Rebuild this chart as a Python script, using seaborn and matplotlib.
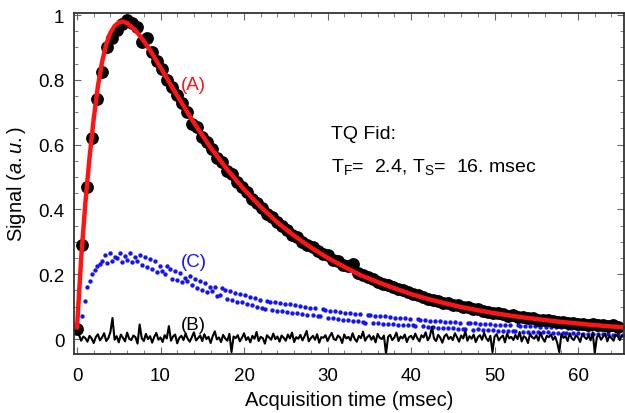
import numpy as np
import seaborn as sns
import matplotlib.pyplot as plt
from matplotlib.ticker import MultipleLocator

# TQ FID signal (A): measured points, one every 0.6 msec
dt_a = 0.6
signal_a = [0.030, 0.290, 0.470, 0.620, 0.740, 0.825, 0.900, 0.930, 0.955, 0.972,
            0.985, 0.975, 0.962, 0.918, 0.930, 0.885, 0.858, 0.832, 0.800, 0.778,
            0.752, 0.728, 0.700, 0.665, 0.655, 0.625, 0.608, 0.588, 0.560, 0.545,
            0.520, 0.508, 0.485, 0.470, 0.455, 0.432, 0.420, 0.405, 0.385, 0.378,
            0.362, 0.348, 0.338, 0.322, 0.314, 0.300, 0.290, 0.283, 0.272, 0.262,
            0.258, 0.243, 0.240, 0.228, 0.225, 0.232, 0.205, 0.198, 0.192, 0.186,
            0.176, 0.171, 0.168, 0.160, 0.154, 0.150, 0.146, 0.138, 0.136, 0.130,
            0.124, 0.122, 0.118, 0.112, 0.110, 0.106, 0.104, 0.098, 0.098, 0.092,
            0.092, 0.088, 0.084, 0.082, 0.080, 0.078, 0.072, 0.074, 0.068, 0.068,
            0.064, 0.066, 0.060, 0.058, 0.058, 0.056, 0.052, 0.054, 0.050, 0.050,
            0.046, 0.048, 0.044, 0.046, 0.042, 0.044, 0.040, 0.042, 0.038]

# Fitted curve (T_F = 2.4, T_S = 16 msec)
fit_t = [0, 0.5, 1, 1.5, 2, 2.5, 3, 3.5, 4, 4.5, 5, 5.5, 6, 7, 8, 9, 10, 12, 14, 16,
         18, 20, 22, 24, 26, 28, 30, 32, 34, 36, 38, 40, 42, 44, 46, 48, 50, 52, 54,
         56, 58, 60, 62, 64, 65.5]
fit_a = [0.035, 0.25, 0.42, 0.56, 0.68, 0.78, 0.855, 0.91, 0.945, 0.966, 0.977, 0.98,
         0.975, 0.953, 0.92, 0.881, 0.838, 0.751, 0.668, 0.591, 0.523, 0.462, 0.408,
         0.36, 0.319, 0.283, 0.251, 0.223, 0.197, 0.176, 0.157, 0.139, 0.124, 0.111,
         0.099, 0.089, 0.080, 0.072, 0.065, 0.059, 0.053, 0.048, 0.043, 0.039, 0.036]

# Signal (C), in units of 0.001, one point every 0.3 msec starting at 0.3
t0_c = 0.3
dt_c = 0.3
signal_c_milli = [30, 70, 118, 160, 178, 200, 212, 226, 232, 242,
                  258, 236, 265, 240, 254, 249, 266, 238, 257, 244,
                  266, 237, 253, 240, 259, 228, 252, 222, 246, 216,
                  240, 208, 226, 210, 201, 225, 216, 186, 210, 181,
                  203, 175, 190, 178, 194, 166, 186, 158, 180, 152,
                  174, 146, 160, 148, 162, 134, 135, 157, 152, 124,
                  147, 121, 143, 116, 139, 113, 136, 108, 130, 105,
                  127, 100, 122, 97, 92, 118, 116, 90, 113, 88,
                  112, 86, 108, 85, 107, 81, 104, 80, 102, 77,
                  100, 75, 96, 74, 95, 70, 71, 92, 91, 66,
                  88, 64, 86, 63, 84, 60, 82, 59, 80, 57,
                  77, 55, 76, 53, 51, 74, 73, 50, 72, 51,
                  70, 48, 70, 47, 67, 47, 66, 44, 66, 45,
                  64, 42, 62, 42, 40, 62, 59, 40, 59, 37,
                  57, 36, 57, 35, 55, 34, 54, 33, 53, 34,
                  52, 32, 51, 31, 30, 50, 50, 29, 49, 30,
                  48, 28, 47, 27, 46, 27, 45, 26, 44, 26,
                  44, 25, 43, 24, 24, 42, 41, 23, 40, 23,
                  40, 22, 39, 22, 38, 21, 37, 21, 37, 20,
                  37, 20, 36, 19, 18, 35, 35, 18, 34, 18,
                  34, 17, 33, 17, 33, 16, 32, 16, 32, 15,
                  31, 15, 31, 14, 30, 14, 30, 14]

# Signal (B), in units of 0.001, one point every 0.25 msec
dt_b = 0.25
signal_b_milli = [30, 12, -5, 8, 3, -8, 10, 2, -12, 6, 15, -4, 5, 18, -6, 3, 22, 65, -2, 9,
                  -10, 14, 4, -7, 20, 1, -3, 11, 6, -14, 45, 3, -6, 16, 0, 9, -11, 7, 19, -2,
                  5, -9, 12, 2, 40, -5, 8, 14, -13, 4, 10, -3, 17, 1, -8, 6, 21, -4, 3, 11,
                  -6, 15, 0, 7, -12, 9, 24, -1, 5, -9, 13, 2, -5, 16, -40, 8, 3, 12, -7, 4,
                  18, -3, 6, -10, 10, 1, 22, -6, 7, 3, -14, 12, 5, -2, 17, 0, 8, -8, 11, 4,
                  -5, 14, 2, 20, -9, 6, 1, 13, -4, 9, 25, -7, 3, 10, -2, 15, -11, 6, 4, 12,
                  -6, 8, 19, 0, -3, 11, 5, -12, 14, 2, 7, -4, 18, 1, -8, 10, 3, 23, -5, 6,
                  12, -2, 9, -10, 16, 4, 0, 11, -45, 7, 13, -3, 5, 20, -6, 8, 2, 14, -9, 6,
                  10, -1, 17, 3, -7, 12, 5, 21, -4, 8, 38, 2, -6, 13, 4, -11, 9, 15, 0, 7,
                  -3, 18, 6, -8, 11, 2, 24, -5, 9, 1, 14, -9, 6, 12, -2, 19, 3, -6, 10, -40,
                  8, 15, -4, 5, 11, -10, 17, 2, 7, -3, 13, 0, 22, -7, 9, 4, -12, 16, 6, 1,
                  12, -5, 20, 3, -8, 10, 6, 14, -2, 8, -11, -40, 15, 4, 9, -6, 18, 2, -3, 12,
                  5, -9, 16, 7, 0, 11, -4, 21, -42, 6, 13, -2, 8, 17, -7, 10, 3, -5, 14, 9,
                  -3, 12, 6]

y_ticks = [0, 0.2, 0.4, 0.6, 0.8, 1.0]
y_tick_labels = ["0", "0.2", "0.4", "0.6", "0.8", "1"]
x_ticks = [0, 10, 20, 30, 40, 50, 60]

t_a = np.arange(len(signal_a)) * dt_a
t_c = t0_c + np.arange(len(signal_c_milli)) * dt_c
sig_c = np.array(signal_c_milli) / 1000
t_b = np.arange(len(signal_b_milli)) * dt_b
sig_b = np.array(signal_b_milli) / 1000

sns.set_style("ticks")
plt.rcParams['font.family'] = ['Liberation Sans', 'DejaVu Sans']
plt.rcParams['mathtext.fontset'] = 'custom'
plt.rcParams['mathtext.rm'] = 'Liberation Sans'
plt.rcParams['mathtext.it'] = 'Liberation Sans:italic'
plt.rcParams['text.color'] = 'black'
plt.rcParams['axes.labelcolor'] = 'black'

fig, ax = plt.subplots(figsize=(6.25, 4.14), dpi=100)
fig.subplots_adjust(left=0.1184, right=0.9984, bottom=0.1425, top=0.966)

sns.lineplot(x=t_b, y=sig_b, color='black', lw=1.5, estimator=None, ax=ax)
sns.scatterplot(x=t_c, y=sig_c, color='#1414f0', s=10, linewidth=0, ax=ax)
sns.scatterplot(x=t_a, y=signal_a, color='black', s=85, linewidth=0, ax=ax)
sns.lineplot(x=fit_t, y=fit_a, color='#ff1414', lw=3.2, estimator=None, ax=ax)

ax.set_xlim(-0.36, 65.5)
ax.set_ylim(-0.046, 1.006)
ax.set_xticks(x_ticks)
ax.set_yticks(y_ticks)
ax.set_yticklabels(y_tick_labels)
ax.xaxis.set_minor_locator(MultipleLocator(2))
ax.yaxis.set_minor_locator(MultipleLocator(0.05))
ax.tick_params(which='both', direction='in', top=True, right=True, color='#666666',
               labelcolor='black')
ax.tick_params(which='major', length=5, width=0.8, labelsize=13.5, pad=7)
ax.tick_params(which='minor', length=3, width=0.6)
ax.tick_params(axis='x', which='major', pad=9)
for sp in ax.spines.values():
    sp.set_color('#333333')
    sp.set_linewidth(1.3)

ax.set_xlabel('Acquisition time (msec)', fontsize=14.5)
ax.set_ylabel('Signal ($\\mathit{a.u.}$)', fontsize=14.5)
ax.yaxis.set_label_coords(-0.084, 0.5)
ax.xaxis.set_label_coords(0.5, -0.106)

ax.text(12.45, 0.787, '(A)', color='#ff1414', fontsize=13.5, va='center', ha='left')
ax.text(12.45, 0.24, '(C)', color='#1414f0', fontsize=13.5, va='center', ha='left')
ax.text(12.45, 0.046, '(B)', color='black', fontsize=13.5, va='center', ha='left')
ax.text(30.4, 0.635, 'TQ Fid:', fontsize=14, va='center', ha='left')
ax.text(30.4, 0.535, 'T$_\\mathrm{F}$=  2.4, T$_\\mathrm{S}$=  16. msec', fontsize=14,
        va='center', ha='left')

fig.savefig('out.png', dpi=100)
